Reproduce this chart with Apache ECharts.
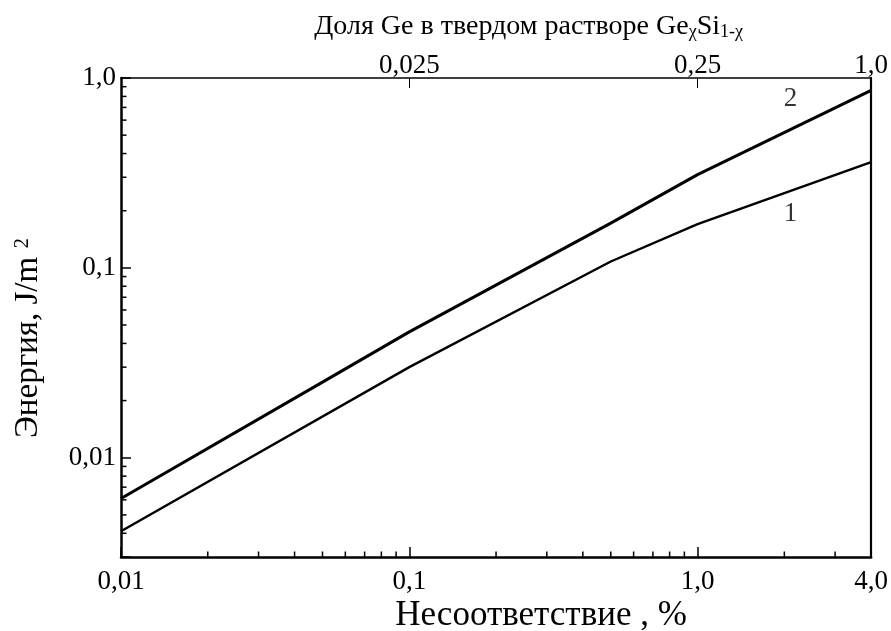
<!DOCTYPE html>
<html><head><meta charset="utf-8">
<script src="https://cdn.jsdelivr.net/npm/echarts@6/dist/echarts.min.js"></script>
<style>html,body{margin:0;padding:0;background:#fff}#c{width:891px;height:631px}</style>
</head><body><div id="c"></div>
<script>
// ---- data ----
const mismatch1 = [0.01, 0.1, 0.5, 1.0, 4.0];
const energy1   = [0.0041, 0.030, 0.108, 0.170, 0.36];
const mismatch2 = [0.01, 0.05, 0.1, 0.5, 1.0, 4.0];
const energy2   = [0.0061, 0.025, 0.046, 0.172, 0.31, 0.86];
const curveNames  = ['1', '2'];
const curveLabelX = [2.1, 2.1];
const curveLabelY = [0.193, 0.78];
const xTickValues = [0.01, 0.1, 1, 4];
const xTickLabels = ['0,01', '0,1', '1,0', '4,0'];
const yTickValues = [0.01, 0.1, 1];
const yTickLabels = ['0,01', '0,1', '1,0'];
const geTickValues = [0.025, 0.25, 1.0];
const geTickLabels = ['0,025', '0,25', '1,0'];
const geMismatch = 4.0; // mismatch (%) of pure Ge relative to Si
const xMinorTicks = [0.02,0.03,0.04,0.05,0.06,0.07,0.08,0.09,0.2,0.3,0.4,0.5,0.6,0.7,0.8,0.9,2,3];
const yMinorTicks = [0.004,0.005,0.006,0.007,0.008,0.009,0.02,0.03,0.04,0.05,0.06,0.07,0.08,0.09,0.2,0.3,0.4,0.5,0.6,0.7,0.8,0.9];
const X_MIN = 0.01, X_MAX = 4, Y_MIN = 0.003, Y_MAX = 1;

const FONT = '"Liberation Serif", "Times New Roman", serif';
function findLabel(v, vals, labels) {
  for (let i = 0; i < vals.length; i++) {
    if (Math.abs(Math.log10(v) - Math.log10(vals[i])) < 0.005) return labels[i];
  }
  return '';
}

const chart = echarts.init(document.getElementById('c'), null, {renderer: 'canvas'});
const minorData = xMinorTicks.map(v => [v, Y_MIN, 0]).concat(yMinorTicks.map(v => [X_MIN, v, 1]));

const baseAxis = {
  type: 'log', logBase: 10,
  splitLine: {show: false}, minorTick: {show: false}, minorSplitLine: {show: false}
};
const labelFont = {color: '#000', fontFamily: FONT, fontSize: 27};

const option = {
  animation: false,
  backgroundColor: '#fff',
  grid: {left: 121, right: 16, top: 78, bottom: 74, containLabel: false},
  xAxis: [
    Object.assign({}, baseAxis, {
      min: X_MIN, max: X_MAX, position: 'bottom',
      axisLine: {show: true, onZero: false, lineStyle: {color: '#000', width: 2.5}},
      axisTick: {show: true, inside: true, length: 10, lineStyle: {color: '#000', width: 1.5}},
      axisLabel: Object.assign({show: true, showMinLabel: true, showMaxLabel: true, margin: 11,
        formatter: v => findLabel(v, xTickValues, xTickLabels)}, labelFont)
    }),
    Object.assign({}, baseAxis, {
      min: X_MIN, max: X_MAX, position: 'top',
      axisLine: {show: true, onZero: false, lineStyle: {color: '#000', width: 1.5}},
      axisTick: {show: true, inside: true, length: 10, lineStyle: {color: '#000', width: 1}},
      axisLabel: Object.assign({show: true, showMinLabel: true, showMaxLabel: true, margin: -1,
        formatter: v => findLabel(v / geMismatch, geTickValues, geTickLabels)}, labelFont)
    })
  ],
  yAxis: [
    Object.assign({}, baseAxis, {
      min: Y_MIN, max: Y_MAX, position: 'left',
      axisLine: {show: true, onZero: false, lineStyle: {color: '#000', width: 2.5}},
      axisTick: {show: true, inside: true, length: 10, lineStyle: {color: '#000', width: 1.5}},
      axisLabel: Object.assign({show: true, showMinLabel: true, showMaxLabel: true, margin: 5,
        formatter: v => findLabel(v, yTickValues, yTickLabels)}, labelFont)
    }),
    Object.assign({}, baseAxis, {
      min: Y_MIN, max: Y_MAX, position: 'right',
      axisLine: {show: true, onZero: false, lineStyle: {color: '#000', width: 2.2}},
      axisTick: {show: false}, axisLabel: {show: false}
    })
  ],
  graphic: [
    {type: 'text', x: 743, y: 9, z: 10,
      style: {
        text: '{a|Доля Ge в твердом растворе Ge}{s|χ}{a|Si}{s|1-χ}',
        align: 'right', verticalAlign: 'top',
        rich: {
          a: {fontFamily: FONT, fontSize: 28, fill: '#000', lineHeight: 32, verticalAlign: 'bottom'},
          s: {fontFamily: FONT, fontSize: 18, fill: '#000', lineHeight: 12, verticalAlign: 'bottom'}
        }
      }
    },
    {type: 'text', x: 541, y: 616, z: 10,
      style: {text: 'Несоответствие , %', fontFamily: FONT, fontSize: 35, fill: '#000',
        align: 'center', verticalAlign: 'middle'}
    },
    {type: 'text', x: 31, y: 338, rotation: Math.PI / 2, z: 10,
      style: {
        text: '{a|Энергия, J/m }{p|2}',
        align: 'center', verticalAlign: 'middle',
        rich: {
          a: {fontFamily: FONT, fontSize: 33, fill: '#000', lineHeight: 38, verticalAlign: 'top'},
          p: {fontFamily: FONT, fontSize: 21, fill: '#000', lineHeight: 18, verticalAlign: 'top'}
        }
      }
    }
  ],
  series: [
    {type: 'line', name: curveNames[0], xAxisIndex: 0, yAxisIndex: 0,
      data: mismatch1.map((x, i) => [x, energy1[i]]),
      symbol: 'none', lineStyle: {color: '#000', width: 2.4}, z: 3},
    {type: 'line', name: curveNames[1], xAxisIndex: 0, yAxisIndex: 0,
      data: mismatch2.map((x, i) => [x, energy2[i]]),
      symbol: 'none', lineStyle: {color: '#000', width: 3}, z: 3},
    {type: 'scatter', xAxisIndex: 0, yAxisIndex: 0, symbolSize: 1,
      itemStyle: {color: 'rgba(0,0,0,0)'},
      data: curveNames.map((n, i) => [curveLabelX[i], curveLabelY[i], n]),
      label: {show: true, position: 'inside', formatter: p => p.value[2],
        fontFamily: FONT, fontSize: 27, color: '#000'}, z: 4},
    {type: 'custom', xAxisIndex: 0, yAxisIndex: 0, data: minorData, encode: {x: 0, y: 1},
      clip: false, silent: true, z: 5,
      renderItem: (params, api) => {
        const kind = api.value(2);
        const p = api.coord([api.value(0), api.value(1)]);
        const L = 5.5;
        const shape = kind === 0
          ? {x1: p[0], y1: p[1], x2: p[0], y2: p[1] - L}
          : {x1: p[0], y1: p[1], x2: p[0] + L, y2: p[1]};
        return {type: 'line', shape: shape, style: {stroke: '#000', lineWidth: 1.5}};
      }}
  ]
};
chart.setOption(option);
</script>
</body></html>
